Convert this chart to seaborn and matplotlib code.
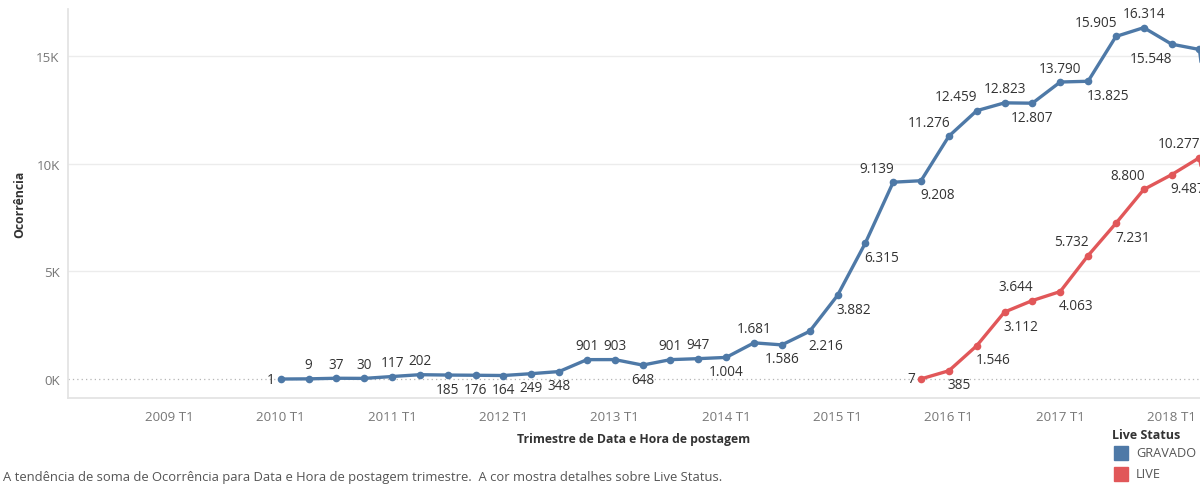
import matplotlib
matplotlib.use("Agg")
import matplotlib.pyplot as plt
import seaborn as sns
import pandas as pd
from matplotlib.patches import Rectangle

# ---------------- data ----------------
gravado_periods = [f"{y} T{q}" for y in range(2010, 2019) for q in range(1, 5)][:35]
gravado_values = [1, 9, 37, 30,
                  117, 202, 185, 176,
                  164, 249, 348, 901,
                  903, 648, 901, 947,
                  1004, 1681, 1586, 2216,
                  3882, 6315, 9139, 9208,
                  11276, 12459, 12823, 12807,
                  13790, 13825, 15905, 16314,
                  15548, 15300, 5000]

live_periods = ["2015 T4"] + [f"{y} T{q}" for y in range(2016, 2019) for q in range(1, 5)][:11]
live_values = [7,
               385, 1546, 3112, 3644,
               4063, 5732, 7231, 8800,
               9487, 10277, 3500]

series_names = ["GRAVADO", "LIVE"]
x_tick_labels = [f"{y} T1" for y in range(2009, 2019)]
y_tick_values = [0, 5000, 10000, 15000]
y_tick_labels = ["0K", "5K", "10K", "15K"]

# label placement (style): a=above, b=below, l=left, al=above-left, br=below-right, bl=below-left
gravado_label_pos = ['l', 'a', 'a', 'a', 'a', 'a', 'b', 'b', 'b', 'b', 'b', 'a', 'a', 'b', 'a', 'a',
                     'b', 'a', 'b', 'br', 'br', 'br', 'al', 'br', 'al', 'al', 'a', 'b', 'a', 'br',
                     'al', 'a', 'bl', None, None]
live_label_pos = ['l', 'br', 'br', 'br', 'al', 'br', 'al', 'br', 'al', 'br', 'al', None]


def period_to_num(p):
    y, q = p.split(" T")
    return int(y) + (int(q) - 1) / 4.0


df = pd.concat([
    pd.DataFrame({"t": [period_to_num(p) for p in gravado_periods], "v": gravado_values,
                  "status": series_names[0]}),
    pd.DataFrame({"t": [period_to_num(p) for p in live_periods], "v": live_values,
                  "status": series_names[1]}),
], ignore_index=True)

# ---------------- style ----------------
sns.set_theme(style="white")
plt.rcParams["font.family"] = ["Open Sans", "DejaVu Sans"]

BLUE = "#4e79a7"
RED = "#e15759"
palette = {series_names[0]: BLUE, series_names[1]: RED}

W, H = 1200, 485
fig = plt.figure(figsize=(12, 4.85), dpi=100)
ax = fig.add_axes([68 / W, 1 - 399 / H, 1 - 68 / W, (399 - 10) / H])

x0, x1 = 2008.09, 2018.255

# gridlines and zero line
for v in y_tick_values[1:]:
    ax.axhline(v, color="#ececec", lw=1.0, zorder=0)
ax.axhline(0, color="#b5b5b5", lw=0.9, ls=(0, (1, 2.5)), zorder=1)

sns.lineplot(data=df, x="t", y="v", hue="status", palette=palette, marker="o",
             markersize=5.5, markeredgewidth=0, linewidth=2.4, legend=False,
             ax=ax, zorder=3)

ax.set_xlim(x0, x1)
ax.set_ylim(-880, 17180)

# data labels
def put_labels(periods, values, positions):
    for p, v, pos in zip(periods, values, positions):
        if pos is None:
            continue
        x = period_to_num(p)
        txt = f"{v:,}".replace(",", ".")
        if pos == 'a':
            off, ha = (0, 14), 'center'
        elif pos == 'b':
            off, ha = (0, -14), 'center'
        elif pos == 'l':
            off, ha = (-6, 0), 'right'
        elif pos == 'al':
            off, ha = (1, 14), 'right'
        elif pos == 'br':
            off, ha = (-1, -14), 'left'
        else:  # 'bl'
            off, ha = (1, -14), 'right'
        ax.annotate(txt, (x, v), xytext=off, textcoords="offset pixels",
                    ha=ha, va="center", fontsize=9.8, color="#333333",
                    annotation_clip=False, zorder=5)


put_labels(gravado_periods, gravado_values, gravado_label_pos)
put_labels(live_periods, live_values, live_label_pos)

# axes
for s in ["top", "right"]:
    ax.spines[s].set_visible(False)
ax.spines["left"].set_color("#e3e3e3")
ax.spines["bottom"].set_color("#e3e3e3")

ax.set_xticks([2009 + i for i in range(len(x_tick_labels))])
ax.set_xticklabels(x_tick_labels)
ax.set_xticks([2008 + q / 4 for q in range(1, 41) if x0 < (2008 + q / 4) < x1], minor=True)
ax.tick_params(axis="x", which="both", length=5, color="#dddddd", width=1,
               labelsize=9.6, labelcolor="#777777", pad=4)
ax.set_yticks(y_tick_values)
ax.set_yticklabels(y_tick_labels)
ax.tick_params(axis="y", length=0, labelsize=9.6, labelcolor="#777777", pad=6)
ax.set_xlabel("")
ax.set_ylabel("")

fig.text(20 / W, 1 - 204 / H, "Ocorrência", rotation=90, ha="center", va="center",
         fontsize=8.8, fontweight="bold", color="#333333")
fig.text(634 / W, 1 - 440 / H, "Trimestre de Data e Hora de postagem", ha="center",
         va="center", fontsize=8.8, fontweight="bold", color="#333333")
fig.text(3 / W, 1 - 478 / H,
         "A tendência de soma de Ocorrência para Data e Hora de postagem trimestre.  "
         "A cor mostra detalhes sobre Live Status.",
         ha="left", va="center", fontsize=9.35, color="#555555")

# legend
fig.text(1112 / W, 1 - 436 / H, "Live Status", ha="left", va="center",
         fontsize=9.0, fontweight="bold", color="#333333")
for i, name in enumerate(series_names):
    yc = 454 + 21 * i
    fig.add_artist(Rectangle((1114 / W, 1 - (yc + 7) / H), 14 / W, 14 / H,
                             transform=fig.transFigure, color=palette[name]))
    fig.text(1136 / W, 1 - yc / H, name, ha="left", va="center",
             fontsize=9.2, color="#555555")

fig.savefig("out.png", dpi=100)
